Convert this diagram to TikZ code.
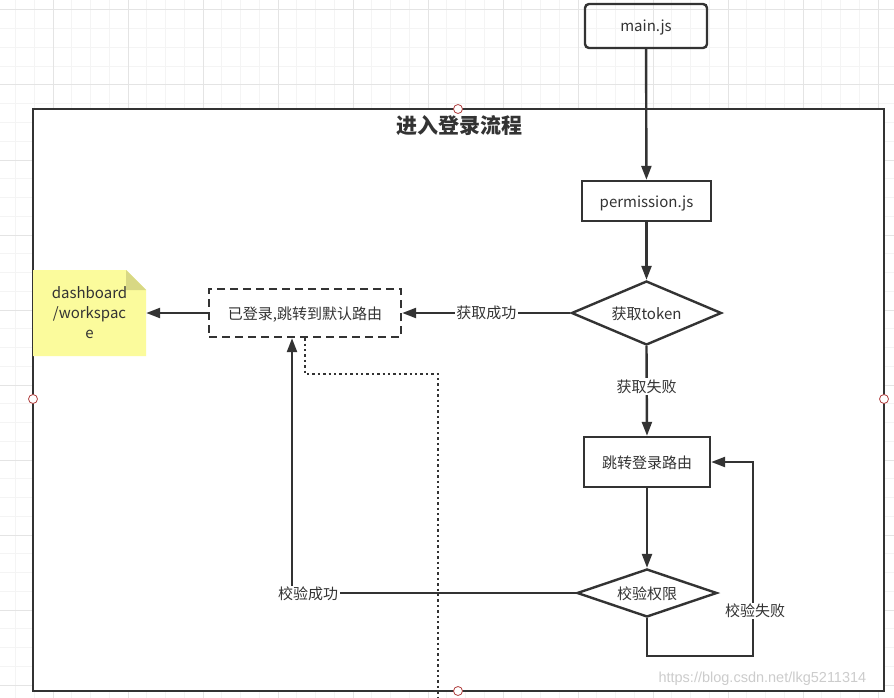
\documentclass[tikz,border=0pt]{standalone}
\usepackage{fontspec}
\setmainfont{Noto Sans CJK SC}
\newfontfamily\wmfont{Liberation Sans}
\usetikzlibrary{shapes.geometric,arrows.meta}
\definecolor{ink}{HTML}{333333}
\definecolor{gridminor}{HTML}{F4F4F4}
\definecolor{gridmajor}{HTML}{E4E4E4}
\definecolor{notefill}{HTML}{FBFB9C}
\definecolor{notefold}{HTML}{D8D884}
\definecolor{handle}{HTML}{B04040}

\begin{document}
\begin{tikzpicture}[x=1pt,y=-1pt,
    box/.style={draw=ink,line width=2.4pt,minimum height=40,inner sep=0,text=ink,text height=14pt,text depth=2pt,font=\fontsize{15}{18}\selectfont},
    decision/.style={diamond,draw=ink,line width=2.4pt,inner sep=0,text=ink,text height=14pt,text depth=2pt,font=\fontsize{15}{18}\selectfont},
    lbl/.style={fill=white,inner sep=1.5pt,text=ink,font=\fontsize{15}{18}\selectfont},
    arr/.style={draw=ink,line width=2.4pt,-{Triangle[length=14pt,width=10pt]}},
    handlept/.style={circle,draw=handle,fill=white,line width=0.8pt,minimum size=9,inner sep=0}]
        \useasboundingbox (0,0) rectangle (894,698);
        \begin{scope}
        \clip (0,0) rectangle (894,698);
        \foreach \k in {-3,...,45} \draw[gridminor,line width=1pt] ({53+18.75*\k},0) -- ++(0,698);
        \foreach \k in {-1,...,37} \draw[gridminor,line width=1pt] (0,{10+18.75*\k}) -- ++(894,0);
        \foreach \k in {-1,...,11} \draw[gridmajor,line width=1pt] ({53+75*\k},0) -- ++(0,698);
        \foreach \k in {0,...,9} \draw[gridmajor,line width=1pt] (0,{10+75*\k}) -- ++(894,0);
        \end{scope}

        % container
        \draw[ink,line width=2.8pt,fill=white] (33,109) rectangle (884,691);
        \node[text=ink,font=\fontsize{21}{24}\selectfont\bfseries] (title) at (459,126) {进入登录流程};

        % note
        \fill[notefill] (33,270) -- (126,270) -- (146,290) -- (146,356) -- (33,356) -- cycle;
        \fill[notefold] (126,270) -- (146,290) -- (126,290) -- cycle;
        \node[align=center,text=ink,font=\fontsize{15}{20}\selectfont,minimum width=113,minimum height=86,inner sep=0] (note) at (89.5,313) {dashboard\\/workspac\\e};

        \node[box,rounded corners=4pt,minimum width=122,minimum height=44] (mainjs) at (646,26) {main.js};
        \node[box,minimum width=129] (perm) at (646.5,201) {permission.js};
        \node[decision,shape aspect=2.35,minimum width=150,minimum height=64] (token) at (646.5,313) {获取token};
        \node[box,dashed,dash pattern=on 8pt off 5pt,minimum width=192,minimum height=48] (logged) at (305,313) {已登录,跳转到默认路由};
        \node[box,minimum width=126,minimum height=50] (loginroute) at (647,462) {跳转登录路由};
        \node[decision,shape aspect=2.9,minimum width=140,minimum height=48] (check) at (647,593) {校验权限};

        \coordinate (okturn) at (292,593);
        \coordinate (failbot) at (753,656);
        \coordinate (dotturn) at (438,374);
        \coordinate (dotend) at (438,698);

        \draw[ink,line width=2.4pt,dash pattern=on 2.4pt off 3pt] (logged.south) |- (dotturn) -- (dotend);

        \path[arr] (mainjs) -- (perm);
        \path[arr] (perm) -- (token);
        \path[arr] (token.west) -- node[lbl] {获取成功} (logged.east);
        \path[arr] (logged.west) -- (note.east);
        \path[arr] (token.south) -- node[lbl,pos=0.45] {获取失败} (loginroute.north);
        \path[arr] (loginroute) -- (check);
        \path[arr] (check.west) -- (okturn) -- (okturn |- logged.south);
        \node[lbl] (oklbl) at (308,594) {校验成功};
        \path[arr] (check.south) |- (failbot) |- (loginroute.east);
        \node[lbl] (faillbl) at (755,611) {校验失败};

        % handles
        \node[handlept] (h1) at (458,109) {};
        \node[handlept] (h2) at (33,399) {};
        \node[handlept] (h3) at (884,399) {};
        \node[handlept] (h4) at (458,691) {};

        \node[anchor=west,text=gray!40,font=\wmfont\fontsize{14.5}{16}\selectfont] (wm) at (655,679) {https://blog.csdn.net/lkg5211314};
    \end{tikzpicture}
\end{document}
